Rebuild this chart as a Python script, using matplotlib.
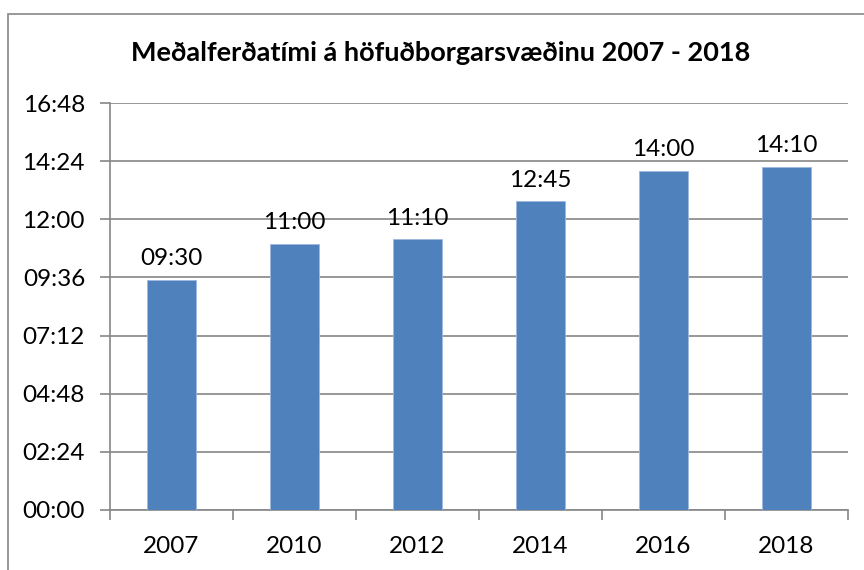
import matplotlib.pyplot as plt
from matplotlib.patches import Rectangle
from matplotlib.ticker import FixedLocator, FuncFormatter

plt.rcParams["font.family"] = ["Lato", "DejaVu Sans"]

YEARS = ["2007", "2010", "2012", "2014", "2016", "2018"]
# travel time in seconds (mm:ss)
TIMES = [570, 660, 670, 765, 840, 850]
Y_TICKS = [0, 144, 288, 432, 576, 720, 864, 1008]

TITLE = "Meðalferðatími á höfuðborgarsvæðinu 2007 - 2018"
BAR_COLOR = "#4F81BD"
GRID_COLOR = "#868686"


def mmss(value, pos=None):
    value = int(round(value))
    return f"{value // 60:02d}:{value % 60:02d}"


def main() -> None:
    fig = plt.figure(figsize=(8.64, 5.70), dpi=100)

    # outer chart frame (runs off right and bottom edges)
    fig.patches.append(
        Rectangle((8 / 864, -0.05), 1.2, 1 - 14 / 570 + 0.05,
                  transform=fig.transFigure, fill=False,
                  edgecolor="#888888", linewidth=1.2)
    )

    ax = fig.add_axes([110 / 864, 1 - 510 / 570, 738 / 864, 407 / 570])

    x = range(len(YEARS))
    ax.bar(x, TIMES, width=0.4, color=BAR_COLOR, edgecolor="#9DB9E0",
           linewidth=0.6, zorder=3)

    for xi, val in zip(x, TIMES):
        ax.text(xi, val + 26, mmss(val), ha="center", va="bottom",
                fontsize=17.5)

    ax.set_xlim(-0.5, len(YEARS) - 0.5)
    ax.set_ylim(0, 1008)
    ax.yaxis.set_major_locator(FixedLocator(Y_TICKS))
    ax.yaxis.set_major_formatter(FuncFormatter(mmss))
    ax.grid(axis="y", color=GRID_COLOR, linewidth=1.2, zorder=0)

    ax.set_xticks(list(x))
    ax.set_xticklabels(YEARS)
    ax.set_xticks([i - 0.5 for i in range(len(YEARS) + 1)], minor=True)
    ax.tick_params(axis="x", which="major", length=0, pad=19, labelsize=17.5)
    ax.tick_params(axis="x", which="minor", length=7, color=GRID_COLOR,
                   width=1.2, direction="out")
    ax.tick_params(axis="y", length=7, color=GRID_COLOR, width=1.2,
                   pad=11, labelsize=17.5)

    for side in ["top", "right"]:
        ax.spines[side].set_visible(False)
    for side in ["left", "bottom"]:
        ax.spines[side].set_color(GRID_COLOR)
        ax.spines[side].set_linewidth(1.2)

    fig.text(441 / 864, 1 - 53 / 570, TITLE, ha="center",
             va="center", fontsize=19.5, fontweight="bold")

    fig.savefig("out.png", dpi=100)
    plt.close(fig)


if __name__ == "__main__":
    main()
